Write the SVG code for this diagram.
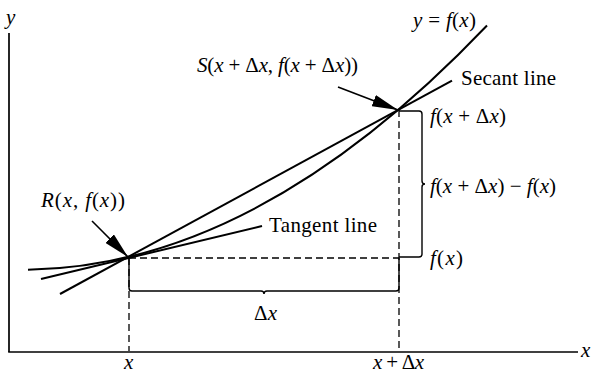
<svg xmlns="http://www.w3.org/2000/svg" width="591" height="374" viewBox="0 0 591 374">
<defs>
<style>
.ln{fill:none;stroke:#000;stroke-width:2}
.ax{fill:none;stroke:#000;stroke-width:1.7}
.ds{fill:none;stroke:#000;stroke-width:1.3;stroke-dasharray:7 4}
.br{fill:none;stroke:#000;stroke-width:1.4}
.ar{fill:none;stroke:#000;stroke-width:1.6}
.t{font-family:'Liberation Serif','Times New Roman',serif;font-size:21px;fill:#000}
.i{font-style:italic}
</style>
<marker id="ah" viewBox="0 0 26 12" refX="26" refY="6" markerWidth="26" markerHeight="12" markerUnits="userSpaceOnUse" orient="auto">
<path d="M0,0 L26,6 L0,12 z" fill="#000"/>
</marker>
</defs>
<rect width="591" height="374" fill="#fff"/>
<g id="axes">
<line class="ax" x1="9" y1="33" x2="9" y2="352"/>
<line class="ax" x1="8.2" y1="352" x2="578" y2="352"/>
<text class="t i" x="6" y="24">y</text>
<text class="t i" x="581" y="357">x</text>
<text class="t i" x="124" y="369">x</text>
<text class="t" x="373" y="369" textLength="51"><tspan class="i">x</tspan> + Δ<tspan class="i">x</tspan></text>
</g>
<g id="guides">
<line class="ds" x1="129" y1="258" x2="129" y2="351"/>
<line class="ds" x1="399" y1="110" x2="399" y2="351"/>
<line class="ds" x1="129" y1="258" x2="399" y2="258"/>
</g>
<g id="curve">
<path class="ln" d="M28,269.7 Q257.5,266.4 487,25.5"/>
<text class="t" x="413" y="27" textLength="63"><tspan class="i">y</tspan> = <tspan class="i">f</tspan>(<tspan class="i">x</tspan>)</text>
</g>
<g id="tangent">
<line class="ln" x1="41" y1="279" x2="262" y2="226"/>
<text class="t" x="269" y="232" textLength="108">Tangent line</text>
</g>
<g id="secant">
<line class="ln" x1="60" y1="294" x2="452" y2="80.6"/>
<text class="t" x="461" y="85" textLength="95">Secant line</text>
</g>
<g id="pointR">
<text class="t" x="41" y="207" textLength="84"><tspan class="i">R</tspan>(<tspan class="i">x</tspan>, <tspan class="i">f</tspan>(<tspan class="i">x</tspan>))</text>
</g>
<g id="pointS">
<text class="t" x="197" y="72" textLength="161"><tspan class="i">S</tspan>(<tspan class="i">x</tspan> + Δ<tspan class="i">x</tspan>, <tspan class="i">f</tspan>(<tspan class="i">x</tspan> + Δ<tspan class="i">x</tspan>))</text>
</g>
<g id="braceDx">
<path class="br" d="M129,258 L129,288 Q129,291 132,291 L261,291 Q264,291 264,294 Q264,291 267,291 L396,291 Q399,291 399,288 L399,258"/>
<text class="t" x="254" y="320" textLength="23">Δ<tspan class="i">x</tspan></text>
</g>
<g id="braceDy">
<path class="br" d="M399,111 L419,111 Q422,111 422,114 L422,181 Q422,184 425,184 Q422,184 422,187 L422,254 Q422,257 419,257 L399,257"/>
<text class="t" x="430" y="123" textLength="76"><tspan class="i">f</tspan>(<tspan class="i">x</tspan> + Δ<tspan class="i">x</tspan>)</text>
<text class="t" x="430" y="193" textLength="126"><tspan class="i">f</tspan>(<tspan class="i">x</tspan> + Δ<tspan class="i">x</tspan>) − <tspan class="i">f</tspan>(<tspan class="i">x</tspan>)</text>
<text class="t" x="430" y="265" textLength="33"><tspan class="i">f</tspan>(<tspan class="i">x</tspan>)</text>
</g>
<g id="connectors">
<line class="ar" x1="92" y1="221" x2="128" y2="257" marker-end="url(#ah)"/>
<line class="ar" x1="338" y1="87" x2="398" y2="110" marker-end="url(#ah)"/>
</g>
</svg>
